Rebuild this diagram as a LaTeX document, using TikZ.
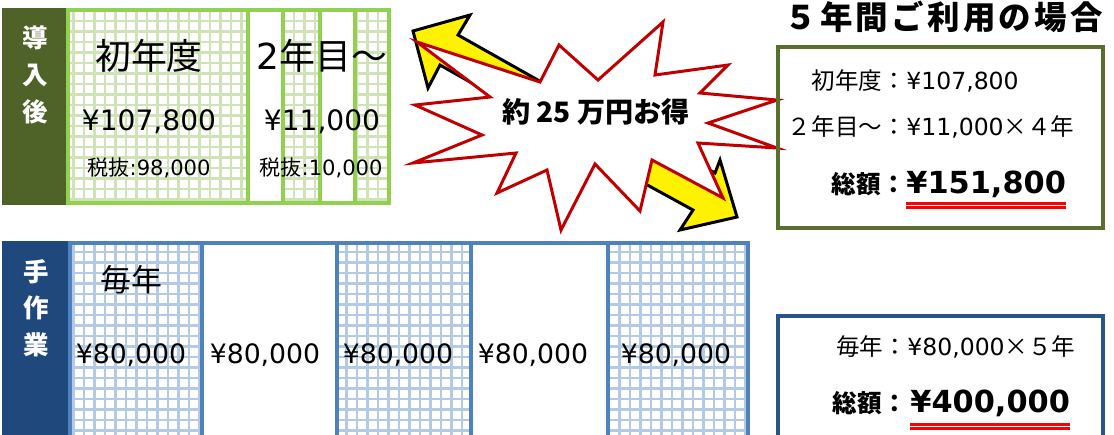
\documentclass[tikz,border=0pt]{standalone}
\usepackage{fontspec}
\setmainfont{Noto Sans CJK JP}
\newfontfamily\lat{DejaVu Sans}
\usepackage{tikz}

\definecolor{barGreen}{HTML}{4F6228}
\definecolor{lineGreen}{HTML}{92D050}
\definecolor{meshGreen}{HTML}{D0E3B6}
\definecolor{barBlue}{HTML}{1F497D}
\definecolor{lineBlue}{HTML}{4F81BD}
\definecolor{meshBlue}{HTML}{B4C9E3}
\definecolor{starRed}{HTML}{C00000}
\definecolor{boxGreen}{HTML}{5A6E2E}
\definecolor{boxBlue}{HTML}{2A5386}

\newcommand{\fsz}[1]{\fontsize{#1}{#1}\selectfont}

\begin{document}
\begin{tikzpicture}[x=0.02cm,y=-0.02cm,
    meshG/.style={draw=meshGreen,line width=1.4pt,step=0.21cm},
    meshB/.style={draw=meshBlue,line width=1.4pt,step=0.21cm},
    cellG/.style={draw=lineGreen,line width=2.3pt},
    cellB/.style={draw=lineBlue,line width=2.3pt},
    txt/.style={inner sep=0pt,anchor=base},
    dblline/.style={draw=red,line width=1.3pt},
    burst/.style={draw=starRed,fill=white,line width=1.7pt,line join=miter},
    fatarrow/.style={draw=black,fill=yellow,line width=1.7pt,line join=miter}]
\useasboundingbox (0,0) rectangle (1114,434);
\clip (0,0) rectangle (1114,434);

% upper row
\fill[barGreen] (2,8) rectangle (68,205);
\node[text=white,font=\fontsize{14.5pt}{21pt}\selectfont\bfseries,align=center] (tagAfter) at (35,75) {導\\入\\後};
\foreach \xa/\xb in {68/248, 283/320, 355/389}{
  \begin{scope}
    \clip (\xa,8) rectangle (\xb,205);
    \draw[meshG] (\xa,205) grid (\xb,8);
  \end{scope}
}
\foreach \xa/\xb in {68/248, 248/283, 283/320, 320/355, 355/389}
  \draw[cellG] (\xa,10) rectangle (\xb,203);

\node[txt,font=\fsz{20.4pt}] (firstYr) at (149,69) {初年度};
\node[txt,font=\fsz{16pt}\lat] (firstPrice) at (149,130) {¥107,800};
\node[txt,font=\fsz{12pt}] (firstNet) at (149,175) {税抜{\lat :98,000}};
\node[txt,font=\fsz{20.4pt}] (laterYr) at (322,69) {{\lat 2}年目～};
\node[txt,font=\fsz{16pt}\lat] (laterPrice) at (322,130) {¥11,000};
\node[txt,font=\fsz{12pt}] (laterNet) at (321,175) {税抜{\lat :10,000}};

% lower row
\fill[barBlue] (2,241) rectangle (70,440);
\node[text=white,font=\fontsize{14.5pt}{20.7pt}\selectfont\bfseries,align=center] (tagManual) at (36,308) {手\\作\\業};
\foreach \xa/\xb in {70/202, 337/471, 608/748}{
  \begin{scope}
    \clip (\xa,243) rectangle (\xb,440);
    \draw[meshB] (\xa,440) grid (\xb,243);
  \end{scope}
}
\foreach \xa/\xb in {70/202, 202/337, 337/471, 471/608, 608/748}
  \draw[cellB] (\xa,243) rectangle (\xb,445);

\node[txt,font=\fsz{17.6pt}] (everyYr) at (131,291) {毎年};
\foreach \cx [count=\i] in {131,265,398,533,676}
  \node[txt,font=\fsz{15.2pt}\lat] (yearPrice\i) at (\cx,363) {¥80,000};

% arrows and burst
\draw[fatarrow] (413,31) -- (470,15) -- (458,35) -- (575,101) -- (553,129)
  -- (440,65) -- (428,88) -- cycle;
\draw[fatarrow] (737,217) -- (680,230) -- (693,210) -- (620,170) -- (625,123)
  -- (715,173) -- (720,160) -- cycle;
\draw[burst] (777,100) -- (708,123) -- (777,148) -- (698,143) -- (723,198)
  -- (652,160) -- (640,211) -- (595,164) -- (561,230) -- (547,170)
  -- (497,193) -- (516,153) -- (413,163) -- (482,135) -- (415,105)
  -- (490,97) -- (417,42) -- (540,82) -- (559,45) -- (598,80)
  -- (663,22) -- (655,75) -- (728,65) -- (700,93) -- cycle;
\node[txt,font=\fsz{16pt}\bfseries] (saving) at (596,122) {約 25 万円お得};

% totals
\node[txt,anchor=base west,font=\fsz{18.5pt}\bfseries\addfontfeatures{LetterSpace=10}] (title) at (784,29) {５年間ご利用の場合};

\draw[boxGreen,line width=1.8pt] (778,47) rectangle (1103,228);
\node[txt,anchor=base east,font=\fsz{13.4pt}] (aLbl1) at (906,89) {初年度：};
\node[txt,anchor=base west,font=\fsz{13.4pt}] (aVal1) at (906,89) {{\lat ¥107,800}};
\node[txt,anchor=base east,font=\fsz{13.4pt}] (aLbl2) at (906,135) {２年目～：};
\node[txt,anchor=base west,font=\fsz{13.4pt}] (aVal2) at (906,135) {{\lat ¥11,000}×４年};
\node[txt,anchor=base east,font=\fsz{14pt}\bfseries] (aLbl3) at (906,193) {総額：};
\node[txt,anchor=base west,font=\fsz{17.3pt}\bfseries\lat] (aSum) at (906,193) {¥151,800};
\draw[dblline] (aSum.south west |- 0,203.5) -- (aSum.south east |- 0,203.5);
\draw[dblline] (aSum.south west |- 0,207.5) -- (aSum.south east |- 0,207.5);

\draw[boxBlue,line width=1.8pt] (778,316) rectangle (1103,445);
\node[txt,anchor=base east,font=\fsz{13.4pt}] (bLbl1) at (907,355) {毎年：};
\node[txt,anchor=base west,font=\fsz{13.4pt}] (bVal1) at (907,355) {{\lat ¥80,000}×５年};
\node[txt,anchor=base east,font=\fsz{14pt}\bfseries] (bLbl2) at (907,412) {総額：};
\node[txt,anchor=base west,font=\fsz{17.3pt}\bfseries\lat] (bSum) at (910,412) {¥400,000};
\draw[dblline] (bSum.south west |- 0,424.5) -- (bSum.south east |- 0,424.5);
\draw[dblline] (bSum.south west |- 0,428.5) -- (bSum.south east |- 0,428.5);
\end{tikzpicture}
\end{document}
